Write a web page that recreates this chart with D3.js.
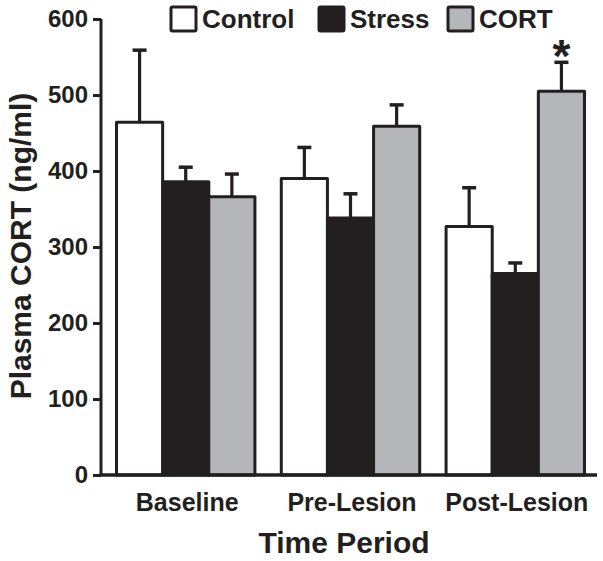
<!DOCTYPE html>
<html>
<head>
<meta charset="utf-8">
<script src="https://cdn.jsdelivr.net/npm/d3@7"></script>
<style>
  body { margin: 0; background: #fff; }
  svg { display: block; font-family: "Liberation Sans", Arial, sans-serif; font-weight: bold; }
</style>
</head>
<body>
<svg id="chart" width="603" height="561"></svg>
<script>
const periods = ["Baseline", "Pre-Lesion", "Post-Lesion"];
const groups = ["Control", "Stress", "CORT"];
const controlMean = [464, 390, 327];
const stressMean = [386, 338, 265];
const cortMean = [366, 459, 505];
const controlErr = [559, 431, 378];
const stressErr = [405, 370, 279];
const cortErr = [396, 487, 543];
const yTicks = [0, 100, 200, 300, 400, 500, 600];
const significant = [[2, "CORT"]];

const colors = { Control: "#ffffff", Stress: "#231f20", CORT: "#b5b6b9" };
const ink = "#231f20";

const means = { Control: controlMean, Stress: stressMean, CORT: cortMean };
const errs = { Control: controlErr, Stress: stressErr, CORT: cortErr };

const svg = d3.select("#chart");
const axisX = 101, axisRight = 597, y0 = 475, yTop = 19;

const y = d3.scaleLinear().domain([0, 600]).range([y0, yTop]);
const x0 = d3.scaleBand().domain(periods).range([axisX, axisRight]).paddingInner(0.16).paddingOuter(0.085);
const x1 = d3.scaleBand().domain(groups).range([0, x0.bandwidth()]);

const data = [];
periods.forEach((p, i) => groups.forEach(g => data.push({ p, i, g, v: means[g][i], e: errs[g][i] })));

// error bars (upper only)
const eb = svg.append("g");
data.forEach(d => {
  const cx = x0(d.p) + x1(d.g) + x1.bandwidth() / 2 + 1.5;
  eb.append("line").attr("x1", cx).attr("x2", cx).attr("y1", y(d.v)).attr("y2", y(d.e))
    .attr("stroke", ink).attr("stroke-width", 3.2);
  eb.append("line").attr("x1", cx - 7).attr("x2", cx + 7).attr("y1", y(d.e)).attr("y2", y(d.e))
    .attr("stroke", ink).attr("stroke-width", 3.5);
});

// bars
svg.append("g").selectAll("rect").data(data).join("rect")
  .attr("x", d => x0(d.p) + x1(d.g) + 1.5)
  .attr("y", d => y(d.v))
  .attr("width", x1.bandwidth())
  .attr("height", d => y(0) - y(d.v))
  .attr("fill", d => colors[d.g])
  .attr("stroke", ink).attr("stroke-width", 3).attr("stroke-linejoin", "round");

// significance star
significant.forEach(([i, g]) => {
  const cx = x0(periods[i]) + x1(g) + x1.bandwidth() / 2 + 1.5;
  svg.append("text").attr("x", cx).attr("y", y(errs[g][i]) + 10)
    .attr("text-anchor", "middle").attr("font-size", 46).attr("fill", ink).text("*");
});

// y axis
const yAxis = svg.append("g").attr("transform", `translate(${axisX},0)`)
  .call(d3.axisLeft(y).tickValues(yTicks).tickSize(8).tickPadding(5).tickFormat(d3.format("d")));
yAxis.select(".domain").attr("d", `M0,${yTop}V${y0}`).attr("stroke", ink).attr("stroke-width", 3);
yAxis.selectAll(".tick line").attr("stroke", ink).attr("stroke-width", 3);
yAxis.selectAll(".tick text").attr("font-size", 24).attr("font-weight", "bold").attr("fill", ink)
  .attr("font-family", "Liberation Sans, Arial, sans-serif");

// x axis
const xAxis = svg.append("g").attr("transform", `translate(0,${y0})`)
  .call(d3.axisBottom(x0).tickSize(0).tickPadding(18));
xAxis.select(".domain").attr("d", `M${axisX - 1.5},0H${axisRight}`).attr("stroke", ink).attr("stroke-width", 3.5);
xAxis.selectAll(".tick text").attr("font-size", 25).attr("font-weight", "bold").attr("fill", ink)
  .attr("font-family", "Liberation Sans, Arial, sans-serif").attr("dy", "0.71em")
  .attr("dx", 3);

// axis titles
svg.append("text").attr("x", 344).attr("y", 553).attr("text-anchor", "middle")
  .attr("font-size", 30).attr("fill", ink).text("Time Period");
svg.append("text").attr("transform", "translate(31,246) rotate(-90)").attr("text-anchor", "middle")
  .attr("font-size", 30).attr("fill", ink).text("Plasma CORT (ng/ml)");

// legend
const legendX = [171, 319, 448];
const lg = svg.append("g");
groups.forEach((g, i) => {
  lg.append("rect").attr("x", legendX[i]).attr("y", 7).attr("width", 25).attr("height", 24)
    .attr("fill", colors[g]).attr("stroke", ink).attr("stroke-width", 3).attr("rx", 1.5);
  lg.append("text").attr("x", legendX[i] + 31).attr("y", 28).attr("font-size", 26)
    .attr("fill", ink).text(g);
});
</script>
</body>
</html>
